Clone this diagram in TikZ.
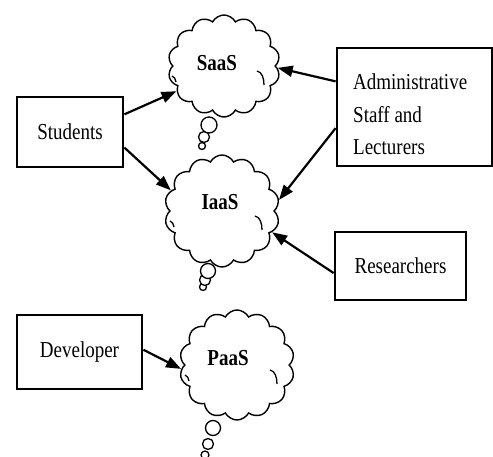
\documentclass[tikz,border=0pt]{standalone}
\usepackage{fontspec}
\setmainfont{Liberation Serif}
\usepackage{graphicx}
\usetikzlibrary{shapes.symbols,arrows.meta}
\newcommand{\vstr}[1]{\scalebox{1}[1.2]{#1}}
\begin{document}
\begin{tikzpicture}[x=1pt,y=-1pt,
  boxnode/.style={draw,line width=2.8pt,inner sep=0pt,anchor=center,font=\fontsize{19}{23}\selectfont},
  cloudnode/.style={cloud,draw,line width=1.4pt,cloud puffs=14,cloud puff arc=125,cloud ignores aspect,inner sep=0pt,fill=white},
  txt/.style={font=\fontsize{19}{23}\selectfont,inner sep=0pt},
  ctxt/.style={font=\bfseries\fontsize{19}{23}\selectfont,inner sep=0pt},
  arr/.style={line width=2.2pt,-{Triangle[length=15pt,width=11pt]}},
  bub/.style={draw,line width=1.3pt,fill=white},
  curl/.style={line width=1.3pt}
]
\useasboundingbox (0,0) rectangle (493,457);
% boxes
\node[boxnode,minimum width=106pt,minimum height=70pt] (stud) at (70,132) {\vstr{Students}};
\node[boxnode,minimum width=155pt,minimum height=118pt] (admin) at (414.5,107) {};
\node[txt,anchor=west,align=left,font=\fontsize{19}{32.5}\selectfont] (admintxt) at (353,114.5) {\vstr{Administrative}\\\vstr{Staff and}\\\vstr{Lecturers}};
\node[boxnode,minimum width=131pt,minimum height=68pt] (res) at (400.5,266) {\vstr{Researchers}};
\node[boxnode,minimum width=125pt,minimum height=74pt] (dev) at (79.5,352) {\vstr{Developer}};
% thought bubbles
\draw[bub] (202,146) circle (3.5);
\draw[bub] (204,137) circle (5.5);
\draw[bub] (209,125) circle (8);
\draw[bub] (203,287) circle (3.5);
\draw[bub] (205,280) circle (5.5);
\draw[bub] (208,271) circle (7.5);
\draw[bub] (205,455) circle (4);
\draw[bub] (208,444) circle (5.5);
\draw[bub] (213,428) circle (7.5);
% clouds
\node[cloudnode,minimum width=112pt,minimum height=102pt] (saas) at (224,66) {};
\node[cloudnode,minimum width=115pt,minimum height=112pt] (iaas) at (222,211) {};
\node[cloudnode,minimum width=115pt,minimum height=110pt] (paas) at (237,365) {};
\node[ctxt] (saastxt) at (217,63) {\vstr{SaaS}};
\node[ctxt] (iaastxt) at (220,202) {\vstr{IaaS}};
\node[ctxt] (paastxt) at (228,358) {\vstr{PaaS}};
% inner curls
\foreach \c in {saas,iaas,paas}{
  \draw[curl] ([shift={(33,5)}]\c.center) .. controls +(5,1) and +(0,-7) .. ([shift={(40,19)}]\c.center);
  \draw[curl] ([shift={(-52,10)}]\c.center) .. controls +(3,1) and +(-1,-3) .. ([shift={(-48,16)}]\c.center);
}
% arrows
\draw[arr] (stud.18) -- (saas.208);
\draw[arr] (stud.-16) -- (iaas.158);
\draw[arr] (admin.162) -- (saas.-2);
\draw[arr] (admin.195) -- (iaas.11);
\draw[arr] (res.186) -- (iaas.-23);
\draw[arr] (dev.2) -- (paas.184);
\end{tikzpicture}
\end{document}
